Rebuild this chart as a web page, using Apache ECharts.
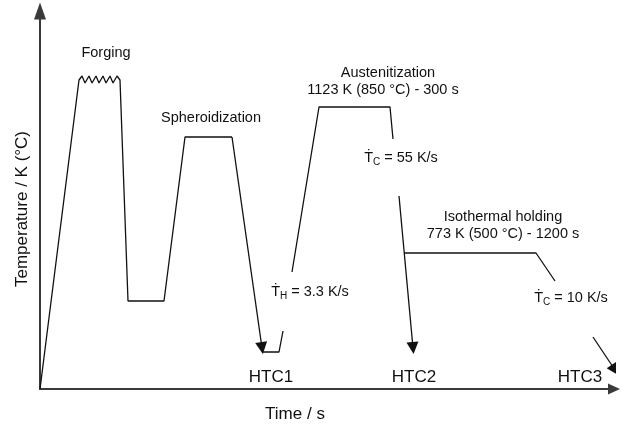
<!DOCTYPE html>
<html>
<head>
<meta charset="utf-8">
<script src="https://cdn.jsdelivr.net/npm/echarts@6/dist/echarts.min.js"></script>
<style>html,body{margin:0;padding:0;background:#fff}#c{width:622px;height:425px}</style>
</head>
<body>
<div id="c"></div>
<script>
// Schematic heat-treatment path (x = schematic time units, y = schematic temperature units)
var forgingPath = [[0,0],[39,309],[42,313],[45,306],[49,313],[52,306],[56,313],[59,306],[63,313],[66,306],[70,313],[73,306],[77,313],[80,309],[81,310],[88,88],[124,88],[145,252],[192,252]];
var htc1Arrow = [[192,252],[222,41]];
var htc1Bottom = [[222,37],[239,37],[243,58]];
var austenitizationPath = [[252,117],[279,282],[350,282],[353,250]];
var htc2Arrow = [[359,193],[373,41]];
var isothermalPath = [[364,136],[496,136],[515,108]];
var htc3Arrow = [[553,52],[575,19]];

var annotations = [
  {text: 'Forging', x: 106, y: 53},
  {text: 'Spheroidization', x: 211, y: 118},
  {text: 'Austenitization', x: 388, y: 73},
  {text: '1123 K (850 °C) - 300 s', x: 383, y: 90},
  {rate: 'C', value: ' = 55 K/s', x: 401, y: 158},
  {rate: 'H', value: ' = 3.3 K/s', x: 310, y: 292},
  {text: 'Isothermal holding', x: 503, y: 217},
  {text: '773 K (500 °C) - 1200 s', x: 503, y: 234},
  {rate: 'C', value: ' = 10 K/s', x: 571, y: 298}
];
var htcLabels = [{text: 'HTC1', x: 271, y: 377},{text: 'HTC2', x: 414, y: 377},{text: 'HTC3', x: 580, y: 377}];
var xTitle = 'Time / s';
var yTitle = 'Temperature / K (°C)';

var chart = echarts.init(document.getElementById('c'), null, {renderer: 'canvas'});
var FONT = 'Liberation Sans, Arial, sans-serif';
var lineStyle = {color: '#111', width: 1.3};
function pathSeries(d) {
  return {type: 'line', data: d, showSymbol: false, symbol: 'none', lineStyle: lineStyle, silent: true, animation: false, z: 3};
}
var graphics = [];
annotations.forEach(function (a) {
  var style;
  if (a.rate) {
    style = {
      text: '{t|\u1E6A}{s|' + a.rate + '}{t|' + a.value + '}',
      rich: {t: {fontSize: 14.5, fontFamily: FONT, fill: '#111'}, s: {fontSize: 10, fontFamily: FONT, fill: '#111', verticalAlign: 'bottom', padding: [8,0,0,0]}},
      align: 'center', verticalAlign: 'middle'
    };
  } else {
    style = {text: a.text, fontSize: 14.5, fontFamily: FONT, fill: '#111', align: 'center', verticalAlign: 'middle'};
  }
  graphics.push({type: 'text', x: a.x, y: a.y, style: style, silent: true});
});
htcLabels.forEach(function (a) {
  graphics.push({type: 'text', x: a.x, y: a.y, style: {text: a.text, fontSize: 17, fontFamily: FONT, fill: '#111', align: 'center', verticalAlign: 'middle'}, silent: true});
});
graphics.push({type: 'text', x: 295, y: 414, style: {text: xTitle, fontSize: 17, fontFamily: FONT, fill: '#111', align: 'center', verticalAlign: 'middle'}, silent: true});
graphics.push({type: 'text', x: 22, y: 209, rotation: Math.PI / 2, style: {text: yTitle, fontSize: 17, fontFamily: FONT, fill: '#111', align: 'center', verticalAlign: 'middle'}, silent: true});

function arrowSeries(d) {
  return {type: 'lines', coordinateSystem: 'cartesian2d', symbol: ['none', 'triangle'], symbolSize: 12,
    lineStyle: {color: '#111', width: 1.3, opacity: 1, curveness: 0}, data: [{coords: d}], silent: true, animation: false, z: 3};
}

chart.setOption({
  animation: false,
  backgroundColor: '#fff',
  grid: {left: 40, right: 8, top: 11, bottom: 36},
  xAxis: {type: 'value', min: 0, max: 574, axisLine: {show: true, symbol: ['none', 'triangle'], symbolSize: [11, 12], lineStyle: {color: '#3a3a3a', width: 2}},
    axisTick: {show: false}, axisLabel: {show: false}, splitLine: {show: false}},
  yAxis: {type: 'value', min: 0, max: 378, axisLine: {show: true, symbol: ['none', 'triangle'], symbolSize: [12, 17], lineStyle: {color: '#3a3a3a', width: 2}},
    axisTick: {show: false}, axisLabel: {show: false}, splitLine: {show: false}},
  series: [
    pathSeries(forgingPath), arrowSeries(htc1Arrow), pathSeries(htc1Bottom),
    pathSeries(austenitizationPath), arrowSeries(htc2Arrow), pathSeries(isothermalPath), arrowSeries(htc3Arrow)
  ],
  graphic: graphics
});
</script>
</body>
</html>
